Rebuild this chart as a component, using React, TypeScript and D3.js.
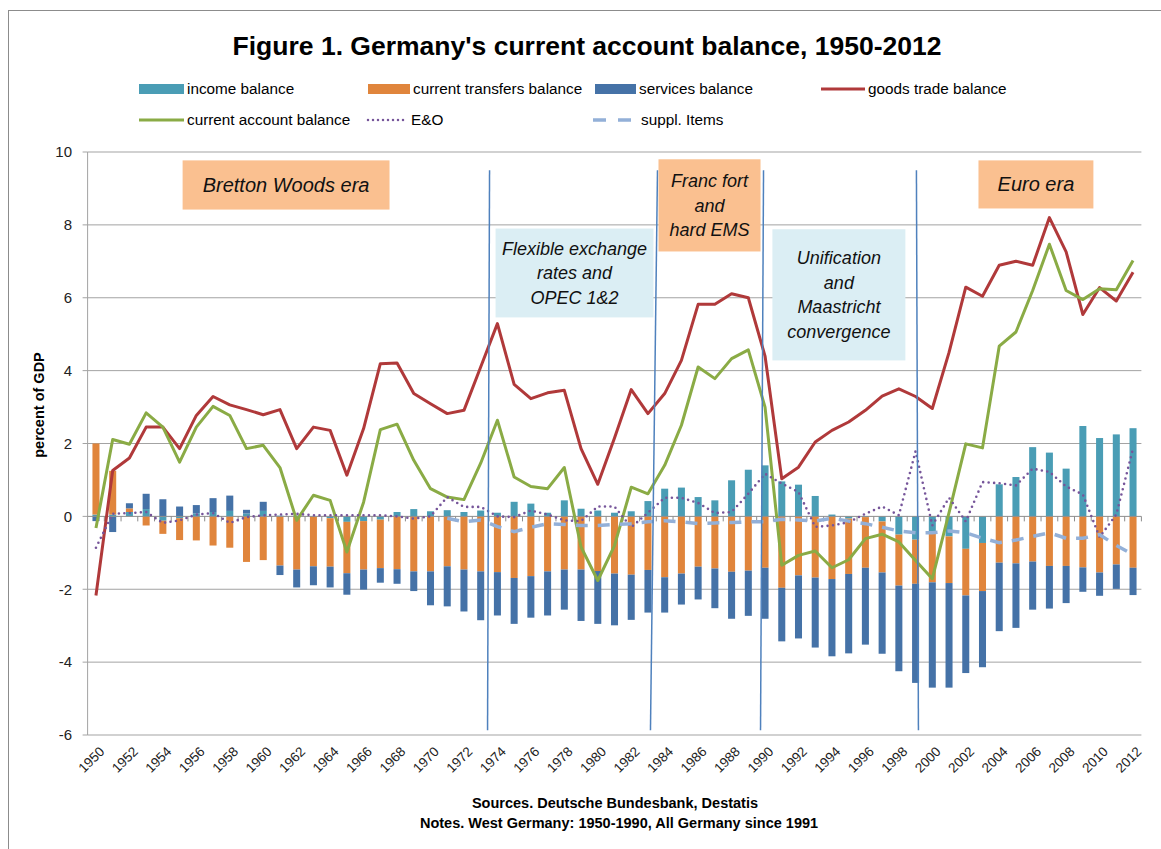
import React from 'react';
import * as d3 from 'd3';

const years = [1950,1951,1952,1953,1954,1955,1956,1957,1958,1959,1960,1961,1962,1963,1964,1965,1966,1967,1968,1969,1970,1971,1972,1973,1974,1975,1976,1977,1978,1979,1980,1981,1982,1983,1984,1985,1986,1987,1988,1989,1990,1991,1992,1993,1994,1995,1996,1997,1998,1999,2000,2001,2002,2003,2004,2005,2006,2007,2008,2009,2010,2011,2012];

const incomeBalance = [0.05,0.05,0.12,0.2,-0.12,-0.05,0.08,0.12,0.15,0.08,0.15,0.02,0.02,0.0,-0.05,-0.15,-0.13,-0.09,0.12,0.2,0.14,0.17,0.12,0.16,0.1,0.4,0.35,0.1,0.44,0.21,0.16,0.1,0.14,0.42,0.76,0.79,0.53,0.44,0.99,1.28,1.4,0.96,0.87,0.56,0.05,-0.06,-0.02,-0.14,-0.5,-0.64,-0.46,-0.55,-0.89,-0.73,0.88,1.08,1.9,1.75,1.31,2.48,2.15,2.25,2.42];

const transfersBalance = [1.95,1.2,0.1,-0.25,-0.36,-0.6,-0.66,-0.8,-0.86,-1.25,-1.2,-1.35,-1.46,-1.37,-1.33,-1.41,-1.33,-1.33,-1.45,-1.51,-1.51,-1.37,-1.46,-1.51,-1.53,-1.69,-1.64,-1.51,-1.46,-1.46,-1.5,-1.57,-1.6,-1.47,-1.67,-1.57,-1.38,-1.43,-1.52,-1.49,-1.41,-1.96,-1.62,-1.68,-1.72,-1.52,-1.39,-1.4,-1.4,-1.21,-1.35,-1.28,-1.28,-1.32,-1.27,-1.29,-1.24,-1.36,-1.36,-1.4,-1.54,-1.32,-1.41];

const servicesBalance = [-0.13,-0.43,0.14,0.42,0.47,0.27,0.23,0.38,0.42,0.1,0.25,-0.26,-0.49,-0.52,-0.57,-0.59,-0.55,-0.4,-0.4,-0.54,-0.93,-1.1,-1.15,-1.34,-1.19,-1.26,-1.14,-1.21,-1.1,-1.41,-1.45,-1.42,-1.24,-1.17,-0.97,-0.85,-0.9,-1.09,-1.29,-1.24,-1.4,-1.47,-1.73,-1.92,-2.12,-2.18,-2.11,-2.23,-2.35,-2.72,-2.89,-2.87,-2.13,-2.09,-1.88,-1.77,-1.32,-1.17,-1.02,-0.67,-0.64,-0.67,-0.75];

const goodsTradeBalance = [-2.17,1.26,1.6,2.45,2.45,1.86,2.77,3.29,3.06,2.93,2.79,2.93,1.86,2.45,2.36,1.13,2.41,4.19,4.21,3.37,3.09,2.82,2.91,4.1,5.29,3.62,3.23,3.39,3.46,1.86,0.88,2.15,3.48,2.82,3.37,4.28,5.82,5.82,6.11,6.0,4.4,1.03,1.35,2.04,2.36,2.59,2.91,3.3,3.5,3.29,2.96,4.5,6.29,6.04,6.89,7.0,6.89,8.2,7.26,5.54,6.28,5.91,6.7];

const currentAccountBalance = [-0.32,2.11,1.98,2.84,2.45,1.49,2.45,3.02,2.77,1.86,1.95,1.34,-0.11,0.58,0.44,-0.98,0.39,2.38,2.53,1.54,0.76,0.53,0.46,1.46,2.64,1.08,0.82,0.76,1.34,-0.84,-1.76,-0.8,0.8,0.62,1.4,2.5,4.1,3.78,4.33,4.57,3.0,-1.34,-1.07,-0.95,-1.41,-1.19,-0.61,-0.49,-0.7,-1.21,-1.71,0.1,1.99,1.88,4.67,5.06,6.2,7.47,6.2,5.95,6.25,6.22,7.02];

const errorsOmissions = [-0.86,0.07,0.09,0.12,-0.18,-0.11,0.05,0.09,-0.18,-0.02,0.03,0.05,0.07,0.03,0.03,0.03,0.03,0.03,0.0,-0.06,0.0,0.53,0.26,0.26,0.0,-0.02,0.16,0.05,-0.11,-0.13,0.27,0.27,-0.3,0.1,0.51,0.51,0.37,0.09,0.12,0.62,1.17,0.9,0.67,-0.29,-0.25,-0.16,0.07,0.27,0.03,1.79,-0.25,0.51,-0.14,0.94,0.91,0.85,1.31,1.22,0.82,0.6,-0.57,0.05,1.86];

const supplItems: (number | null)[] = [null,null,null,null,null,null,null,null,null,null,null,null,null,null,null,null,null,null,null,null,null,-0.05,-0.15,-0.1,-0.28,-0.42,-0.3,-0.2,-0.22,-0.25,-0.25,-0.22,-0.2,-0.15,-0.12,-0.15,-0.2,-0.18,-0.17,-0.15,-0.15,-0.08,-0.1,-0.13,-0.05,-0.13,-0.2,-0.3,-0.4,-0.45,-0.45,-0.4,-0.45,-0.6,-0.72,-0.65,-0.55,-0.45,-0.6,-0.6,-0.5,-0.8,-1.05];

const yTicks = [-6,-4,-2,0,2,4,6,8,10];
const xTickLabels = years.filter((yr) => yr % 2 === 0);

// era separators (fractional years, top and bottom)
const eraLines = [
  { top: 1973.53, bottom: 1973.41 },
  { top: 1983.57, bottom: 1983.15 },
  { top: 1989.91, bottom: 1989.73 },
  { top: 1999.05, bottom: 1999.17 },
];

const eraBoxes = [
  { lines: ['Bretton Woods era'], x0: 1955.18, x1: 1967.55, yTop: 9.77, yBot: 8.42, fill: '#FAC090', size: 20 },
  { lines: ['Flexible exchange', 'rates and', 'OPEC 1&2'], x0: 1973.89, x1: 1983.33, yTop: 7.9, yBot: 5.46, fill: '#DBEEF4', size: 18 },
  { lines: ['Franc fort', 'and', 'hard EMS'], x0: 1983.63, x1: 1989.73, yTop: 9.8, yBot: 7.27, fill: '#FAC090', size: 18 },
  { lines: ['Unification', 'and', 'Maastricht', 'convergence'], x0: 1990.44, x1: 1998.39, yTop: 7.88, yBot: 4.28, fill: '#DBEEF4', size: 18 },
  { lines: ['Euro era'], x0: 2002.76, x1: 2009.63, yTop: 9.77, yBot: 8.45, fill: '#FAC090', size: 20 },
];

const C = {
  income: '#4A9DB5',
  transfers: '#E0853C',
  services: '#4572A7',
  goods: '#B0393A',
  ca: '#8AAB45',
  eo: '#76559A',
  suppl: '#93B0D8',
  grid: '#A3A3A3',
};

const FONT = '"Liberation Sans", Arial, sans-serif';

export default function App() {
  const W = 1161, H = 849;
  const left = 87.6, right = 1141.4, top = 152, bottom = 735;

  const x = d3.scaleBand<number>().domain(years).range([left, right]).paddingInner(0.58).paddingOuter(0.29);
  const xYear = d3.scaleLinear().domain([years[0] - 0.5, years[years.length - 1] + 0.5]).range([left, right]);
  const y = d3.scaleLinear().domain([-6, 10]).range([bottom, top]);
  const cx = (i: number) => (x(years[i]) as number) + x.bandwidth() / 2;

  const rows = years.map((yr, i) => ({ year: yr, income: incomeBalance[i], transfers: transfersBalance[i], services: servicesBalance[i] }));
  const stack = d3.stack<any>().keys(['income', 'transfers', 'services']).offset(d3.stackOffsetDiverging);
  const series = stack(rows);
  const barColors: Record<string, string> = { income: C.income, transfers: C.transfers, services: C.services };

  const line = d3.line<number | null>()
    .defined((d) => d !== null && d !== undefined)
    .x((_, i) => cx(i))
    .y((d) => y(d as number));

  const step = x.step();

  return (
    <svg width={W} height={H} style={{ position: 'absolute', left: 0, top: 0, background: '#fff' }} fontFamily={FONT}>
      <rect x={0} y={0} width={W} height={H} fill="#fff" />
      <rect x={8.5} y={10.5} width={1200} height={900} fill="#fff" stroke="#8C8C8C" strokeWidth={1} />

      <text x={587} y={55} textAnchor="middle" fontSize={26.5} fontWeight="bold" fill="#000">
        Figure 1. Germany's current account balance, 1950-2012
      </text>

      {/* legend */}
      <g fontSize={15.3} fill="#000">
        <rect x={139} y={84} width={45} height={10} fill={C.income} />
        <text x={187} y={94}>income balance</text>
        <rect x={368} y={84} width={42} height={10} fill={C.transfers} />
        <text x={413} y={94}>current transfers balance</text>
        <rect x={595} y={84} width={41} height={10} fill={C.services} />
        <text x={639} y={94}>services balance</text>
        <line x1={821} x2={865} y1={89} y2={89} stroke={C.goods} strokeWidth={3} />
        <text x={868} y={94}>goods trade balance</text>

        <line x1={139} x2={184} y1={120} y2={120} stroke={C.ca} strokeWidth={3} />
        <text x={187} y={125}>current account balance</text>
        <line x1={368} x2={407} y1={120} y2={120} stroke={C.eo} strokeWidth={2.5} strokeDasharray="0 5" strokeLinecap="round" />
        <text x={411} y={125}>E&amp;O</text>
        <line x1={593} x2={633} y1={120} y2={120} stroke={C.suppl} strokeWidth={3.5} strokeDasharray="13 12" />
        <text x={641} y={125}>suppl. Items</text>
      </g>

      {/* gridlines */}
      {yTicks.map((t) => (
        <g key={t}>
          {t !== 0 && <line x1={left} x2={right} y1={y(t)} y2={y(t)} stroke={C.grid} strokeWidth={1} />}
          <line x1={left - 5} x2={left} y1={y(t)} y2={y(t)} stroke={C.grid} strokeWidth={1} />
          <text x={72} y={y(t)} dy="0.35em" textAnchor="end" fontSize={15} fill="#222">{t}</text>
        </g>
      ))}
      <line x1={left} x2={left} y1={top} y2={bottom} stroke={C.grid} strokeWidth={1} />

      {/* bars */}
      {series.map((s) => (
        <g key={s.key} fill={barColors[s.key]}>
          {s.map((d, i) => {
            const y0 = y(d[0]), y1 = y(d[1]);
            const h = Math.abs(y0 - y1);
            if (h < 0.01) return null;
            return <rect key={i} x={x(years[i])} y={Math.min(y0, y1)} width={x.bandwidth()} height={h} />;
          })}
        </g>
      ))}

      {/* zero axis */}
      <line x1={left} x2={right} y1={y(0)} y2={y(0)} stroke="#8C8C8C" strokeWidth={1} />
      {years.map((yr, i) => (
        <line key={yr} x1={left + step * (i + 1)} x2={left + step * (i + 1)} y1={y(0)} y2={y(0) + 5} stroke="#8C8C8C" strokeWidth={1} />
      ))}

      {/* lines */}
      <path d={line(goodsTradeBalance) || ''} fill="none" stroke={C.goods} strokeWidth={3} strokeLinejoin="round" />
      <path d={line(currentAccountBalance) || ''} fill="none" stroke={C.ca} strokeWidth={3} strokeLinejoin="round" />
      <path d={line(errorsOmissions) || ''} fill="none" stroke={C.eo} strokeWidth={2.6} strokeDasharray="0 5.5" strokeLinecap="round" />
      <path d={line(supplItems) || ''} fill="none" stroke={C.suppl} strokeWidth={3.5} strokeDasharray="12 10" />

      {/* era separators */}
      {eraLines.map((l, i) => (
        <line key={i} x1={xYear(l.top)} x2={xYear(l.bottom)} y1={y(9.5)} y2={y(-5.87)} stroke="#4F81BD" strokeWidth={1.5} />
      ))}

      {/* era boxes */}
      {eraBoxes.map((b, i) => {
        const bx0 = xYear(b.x0), bx1 = xYear(b.x1);
        const by0 = y(b.yTop), by1 = y(b.yBot);
        const n = b.lines.length;
        const lh = 24.7;
        const mid = (by0 + by1) / 2;
        return (
          <g key={i}>
            <rect x={bx0} y={by0} width={bx1 - bx0} height={by1 - by0} fill={b.fill} />
            {b.lines.map((t, j) => (
              <text key={j} x={(bx0 + bx1) / 2} y={mid + (j - (n - 1) / 2) * lh} dy="0.35em" textAnchor="middle" fontStyle="italic" fontSize={b.size} fill="#111">{t}</text>
            ))}
          </g>
        );
      })}

      {/* x tick labels */}
      {xTickLabels.map((yr) => {
        const i = years.indexOf(yr);
        const px = cx(i) + 6;
        return (
          <text key={yr} transform={`translate(${px},${bottom + 14}) rotate(-45)`} textAnchor="end" dy="0.35em" fontSize={13.5} fill="#222">{yr}</text>
        );
      })}

      <text transform={`translate(44,405) rotate(-90)`} textAnchor="middle" fontSize={14.5} fontWeight="bold" fill="#000">percent of GDP</text>

      <text x={615} y={808} textAnchor="middle" fontSize={14.5} fontWeight="bold" fill="#000">Sources. Deutsche Bundesbank, Destatis</text>
      <text x={619} y={828} textAnchor="middle" fontSize={14.5} fontWeight="bold" fill="#000">Notes. West Germany: 1950-1990, All Germany since 1991</text>
    </svg>
  );
}
